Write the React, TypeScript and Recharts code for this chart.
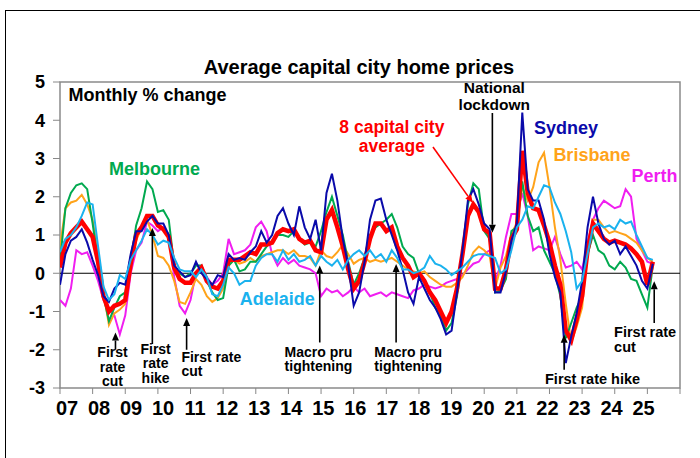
import React from 'react';
import {
  LineChart,
  Line,
  XAxis,
  YAxis,
  ReferenceLine,
  ReferenceArea,
  ReferenceDot,
} from 'recharts';

const FONT = '"Liberation Sans", Arial, Helvetica, sans-serif';

// bi-monthly readings, Jan 2007 .. Mar 2025
const years = [2007, 2008, 2009, 2010, 2011, 2012, 2013, 2014, 2015, 2016, 2017, 2018, 2019, 2020, 2021, 2022, 2023, 2024, 2025];
const monthsOfYear = [0, 2, 4, 6, 8, 10];

const sydney = [
  -0.3, 0.5, 0.85, 0.95, 1.15, 0.8,
  0.35, -0.05, -0.6, -0.75, -0.4, -0.25,
  -0.3, 0.5, 1.1, 1.1, 1.35, 1.5,
  1.3, 1.3, 1.0, 0.2, 0.05, -0.1,
  -0.05, 0.3, 0.0, -0.15, -0.3, -0.05,
  -0.1, 0.5, 0.35, 0.4, 0.35, 0.55,
  0.7, 1.1, 0.8, 1.0, 1.5, 1.7,
  1.3, 1.0, 1.75, 1.2, 0.9, 1.4,
  0.6, 2.1, 2.6, 1.9, 0.9, 0.2,
  -0.85, -0.5, 0.3, 1.4, 1.9, 1.95,
  1.4, 1.0, 0.6, 0.1, -0.5, -0.8,
  -0.1, -0.4, -0.7, -0.9, -1.2, -1.6,
  -1.5, -0.5, 0.6, 1.9, 2.2, 1.8,
  1.3, 1.15, -0.5, -0.5, 0.05, 0.85,
  1.3, 4.2, 2.2, 1.9, 1.9, 1.4,
  0.5, -0.1, -0.5, -2.35, -1.65, -1.05,
  -0.2, 1.2, 2.0, 1.3, 0.9, 0.75,
  0.85, 0.5, 0.7, 0.45, 0.2, -0.2,
  -0.4, 0.25,
];

const melbourne = [
  0.3, 1.7, 2.1, 2.3, 2.35, 2.2,
  1.3, 0.3, -0.6, -1.25, -0.9, -0.6,
  -0.5, 0.3, 1.25, 1.7, 2.4, 2.2,
  1.6, 1.65, 1.4, 0.2, 0.0, -0.1,
  0.0, 0.2, 0.2, -0.2, -0.5, -0.7,
  -0.65, 0.2, 0.35, 0.05, 0.1, 0.3,
  0.3, 0.5, 0.7, 0.85, 1.0, 1.0,
  0.95, 1.1, 0.9, 0.75, 0.8, 0.7,
  1.1, 1.6, 2.0, 1.5, 1.0, 0.3,
  -0.3, 0.0, 0.4, 1.0, 1.2, 1.3,
  1.4, 1.55, 1.2, 0.7, 0.5, 0.4,
  0.0, -0.2, -0.5, -0.9, -1.1, -1.5,
  -1.3, -0.6, 0.4, 1.8, 2.35, 2.2,
  1.1, 0.9, -0.5, -0.45, -0.15, 1.1,
  1.2, 2.4, 1.5, 1.1, 1.2, 0.6,
  0.3, 0.0, -0.6, -1.7, -1.3, -0.9,
  -0.6, 0.5, 1.0, 0.6, 0.5, 0.2,
  0.1, 0.3, 0.15, -0.15, -0.2, -0.55,
  -0.9, 0.2,
];

const brisbane = [
  0.7, 1.7, 1.85, 1.9, 2.05, 1.8,
  1.4, 0.5, -0.5, -1.35, -1.05, -0.95,
  -0.8, 0.3, 0.85, 1.2, 1.4, 1.0,
  0.45, 0.4, 0.2, -0.2, -0.75, -0.8,
  -0.5, -0.15, -0.3, -0.6, -0.75, -0.65,
  -0.4, 0.2, 0.35, 0.25, 0.3, 0.4,
  0.3, 0.45, 0.5, 0.55, 0.6, 0.6,
  0.5, 0.6, 0.45, 0.45, 0.4, 0.2,
  0.6, 0.45, 0.4, 0.55, 0.75, 0.5,
  0.25, 0.35, 0.4, 0.3, 0.35, 0.3,
  0.35, 0.4, 0.3, 0.2, 0.1, 0.05,
  0.0, 0.05, -0.1, -0.2, -0.3, -0.35,
  -0.35, -0.25, -0.1, 0.2, 0.55, 0.7,
  0.6, 0.45, -0.4, 0.15, 0.45, 1.05,
  1.3, 2.25, 1.9, 2.25, 2.9, 3.15,
  2.25, 1.2, 0.35, -0.8, -1.8, -1.4,
  -0.9, 0.6, 1.4, 1.4, 1.2, 1.05,
  1.1, 1.05, 1.0, 0.9, 0.8, 0.6,
  0.4, 0.3,
];

const adelaide = [
  0.55, 0.9, 1.0, 1.2, 1.5, 1.85,
  1.8, 0.7, -0.35, -0.7, -0.55, -0.05,
  -0.15, 0.35, 0.6, 0.85, 1.15, 1.0,
  0.75, 0.85, 0.8, 0.4, 0.1, 0.05,
  0.05, -0.1, 0.1, -0.1, -0.55, -0.6,
  -0.3, 0.15, 0.0, -0.3, -0.2, -0.2,
  0.2, 0.4, 0.5, 0.5, 0.3, 0.6,
  0.35, 0.5, 0.3, 0.35, 0.45, 0.2,
  0.45, 0.3, 0.2, 0.35, 0.1, 0.35,
  0.5, 0.6, 0.45, 0.6, 0.4, 0.5,
  0.3, 0.6, 0.4, 0.1, 0.1, 0.0,
  0.05, 0.15, 0.45, 0.25, 0.2, 0.1,
  -0.05, 0.05, 0.15, 0.3, 0.45, 0.5,
  0.5, 0.45, 0.4, 0.0, 0.1, 0.6,
  1.2, 1.4, 1.75, 1.7, 2.0, 2.3,
  2.25, 1.85, 1.55, 1.1, 0.55, -0.4,
  -0.2, 0.5, 1.2, 1.3, 1.2, 1.25,
  1.15, 1.4, 1.3, 1.35, 1.0, 0.7,
  0.4, 0.35,
];

const perth = [
  -0.7, -0.85, -0.4, 0.6, 0.5, 0.55,
  0.2, -0.2, -0.7, -0.9, -1.1, -1.6,
  -1.1, 0.0, 0.6, 0.8, 1.35, 1.25,
  1.1, 1.2, 1.0, -0.1, -0.85, -1.05,
  -0.7, 0.0, 0.2, -0.1, -0.3, -0.2,
  0.0, 0.9, 0.5, 0.55, 0.6, 0.75,
  1.2, 1.35, 1.1, 0.5, 0.2, 0.4,
  0.25, 0.35, 0.2, 0.15, 0.1, 0.0,
  -0.6, -0.4, -0.5, -0.45, -0.6, -0.5,
  -0.35, -0.5, -0.4, -0.6, -0.55, -0.5,
  -0.6, -0.5, -0.55, -0.6, -0.65, -0.45,
  -0.4, -0.3, -0.35, -0.4, -0.35, -0.25,
  -0.2, -0.15, -0.05, 0.1, 0.25, 0.3,
  0.5, 0.6, -0.2, 0.2, 0.95, 1.55,
  1.55, 2.1, 1.5, 0.6, 0.7, 0.65,
  0.6, 0.95, 0.5, 0.15, 0.2, 0.3,
  0.1, 0.8, 1.4, 1.7, 1.9, 1.8,
  1.7, 1.75, 2.2, 2.0, 0.9, 0.6,
  0.3, 0.25,
];

const capitalAverage = [
  0.15, 0.8, 1.05, 1.2, 1.35, 1.15,
  0.95, 0.3, -0.6, -1.0, -0.85, -0.8,
  -0.7, 0.25, 1.0, 1.2, 1.5, 1.5,
  1.25, 1.15, 0.95, 0.15, -0.15, -0.25,
  -0.25, 0.0, 0.15, -0.2, -0.35, -0.4,
  -0.2, 0.35, 0.35, 0.35, 0.45, 0.55,
  0.5, 0.75, 0.75, 0.8, 1.05, 1.15,
  1.1, 1.15, 0.9, 0.8, 0.85, 0.6,
  0.55, 1.4, 1.65, 1.2, 0.7, 0.1,
  -0.4, -0.2, 0.3, 0.9, 1.3, 1.3,
  1.1, 1.2, 0.7, 0.4, 0.2, -0.1,
  0.0, -0.2, -0.5, -0.7, -1.0, -1.3,
  -1.0, -0.4, 0.5, 1.5, 1.8, 1.6,
  1.15, 1.05, -0.4, -0.4, 0.1, 0.9,
  1.15, 3.2, 2.1, 1.7, 1.65, 1.25,
  0.8, 0.2, -0.3, -1.5, -1.75, -1.2,
  -0.6, 0.6, 1.3, 1.1, 0.9, 0.8,
  0.85, 0.8, 0.75, 0.65, 0.5, 0.3,
  -0.3, 0.3,
];

const xTicks = [2007, 2008, 2009, 2010, 2011, 2012, 2013, 2014, 2015, 2016, 2017, 2018, 2019, 2020, 2021, 2022, 2023, 2024, 2025, 2026];
const xTickLabels = ['07', '08', '09', '10', '11', '12', '13', '14', '15', '16', '17', '18', '19', '20', '21', '22', '23', '24', '25'];
const yTicks = [-3, -2, -1, 0, 1, 2, 3, 4, 5];

// time points for the arrays above
const times: number[] = [];
years.forEach((y) => monthsOfYear.forEach((m) => times.push(y + m / 12)));

const data = sydney.map((_, i) => ({
  t: times[i],
  syd: sydney[i],
  mel: melbourne[i],
  bne: brisbane[i],
  adl: adelaide[i],
  per: perth[i],
  avg: capitalAverage[i],
}));

// text notes on the chart, in data coordinates
type Note = { x: number; y: number; lines: string[]; color: string; size: number; anchor: 'start' | 'middle' | 'end'; gap: number };

const notes: Note[] = [
  { x: 2007.26, y: 4.5, lines: ['Monthly % change'], color: '#000', size: 18, anchor: 'start', gap: 0 },
  { x: 2009.9, y: 2.57, lines: ['Melbourne'], color: '#00A94F', size: 18, anchor: 'middle', gap: 0 },
  { x: 2022.51, y: 3.64, lines: ['Sydney'], color: '#0A0AAA', size: 18, anchor: 'middle', gap: 0 },
  { x: 2023.3, y: 2.94, lines: ['Brisbane'], color: '#FFA31A', size: 18, anchor: 'middle', gap: 0 },
  { x: 2025.22, y: 2.39, lines: ['Perth'], color: '#F01EF0', size: 18, anchor: 'middle', gap: 0 },
  { x: 2013.66, y: -0.82, lines: ['Adelaide'], color: '#1AB2EE', size: 18, anchor: 'middle', gap: 0 },
  { x: 2017.17, y: 3.67, lines: ['8 capital city', 'average'], color: '#FF0000', size: 17.5, anchor: 'middle', gap: 19 },
  { x: 2020.31, y: 4.72, lines: ['National', 'lockdown'], color: '#000', size: 15.5, anchor: 'middle', gap: 17 },
  { x: 2008.61, y: -2.19, lines: ['First', 'rate', 'cut'], color: '#000', size: 14, anchor: 'middle', gap: 14.5 },
  { x: 2009.93, y: -2.11, lines: ['First', 'rate', 'hike'], color: '#000', size: 14, anchor: 'middle', gap: 14.5 },
  { x: 2010.72, y: -2.32, lines: ['First rate', 'cut'], color: '#000', size: 14, anchor: 'start', gap: 14.5 },
  { x: 2014.92, y: -2.18, lines: ['Macro pru', 'tightening'], color: '#000', size: 14, anchor: 'middle', gap: 14.5 },
  { x: 2017.67, y: -2.18, lines: ['Macro pru', 'tightening'], color: '#000', size: 14, anchor: 'middle', gap: 14.5 },
  { x: 2023.32, y: -2.89, lines: ['First rate hike'], color: '#000', size: 14.5, anchor: 'middle', gap: 0 },
  { x: 2023.98, y: -1.66, lines: ['First rate', 'cut'], color: '#000', size: 14.5, anchor: 'start', gap: 15 },
];

// arrows: tail -> head
const arrows = [
  { from: [2008.7, -2.0], to: [2008.7, -1.55], color: '#000' },
  { from: [2009.83, -1.85], to: [2009.83, 1.18], color: '#000' },
  { from: [2010.88, -2.0], to: [2010.88, -1.17], color: '#000' },
  { from: [2014.96, -1.81], to: [2014.96, 0.2], color: '#000' },
  { from: [2017.3, -1.81], to: [2017.3, 0.24], color: '#000' },
  { from: [2020.25, 4.19], to: [2020.25, 1.06], color: '#000' },
  { from: [2018.43, 3.3], to: [2019.65, 1.84], color: '#FF0000' },
  { from: [2022.45, -2.52], to: [2022.45, -1.61], color: '#000' },
  { from: [2025.21, -1.3], to: [2025.21, -0.21], color: '#000' },
];

const renderNote = (n: Note) => (props: any) => {
  const vb = props.viewBox || {};
  const cx = (vb.x ?? 0) + (vb.width ?? 0) / 2;
  const cy = (vb.y ?? 0) + (vb.height ?? 0) / 2;
  return (
    <text x={cx} y={cy} fill={n.color} fontSize={n.size} fontWeight="bold" fontFamily={FONT} textAnchor={n.anchor}>
      {n.lines.map((l, i) => (
        <tspan key={i} x={cx} dy={i === 0 ? 0 : n.gap}>{l}</tspan>
      ))}
    </text>
  );
};

const ArrowShape = (p: any) => {
  const { x1, y1, x2, y2 } = p;
  const color = p.stroke;
  const ang = Math.atan2(y2 - y1, x2 - x1);
  const len = 8;
  const half = 3.5;
  const bx = x2 - len * Math.cos(ang);
  const by = y2 - len * Math.sin(ang);
  const pts = `${x2},${y2} ${bx - half * Math.sin(ang)},${by + half * Math.cos(ang)} ${bx + half * Math.sin(ang)},${by - half * Math.cos(ang)}`;
  return (
    <g>
      <line x1={x1} y1={y1} x2={bx} y2={by} stroke={color} strokeWidth={1.6} />
      <polygon points={pts} fill={color} />
    </g>
  );
};

const XTick = (p: any) => {
  const { x, y, payload } = p;
  const i = Math.round(payload.value - 2007);
  const label = xTickLabels[i];
  if (!label) return null;
  return (
    <text x={x + 7 - 0.6 * i} y={y + 19} textAnchor="middle" fontSize={20} fontWeight="bold" fontFamily={FONT} fill="#000">
      {label}
    </text>
  );
};

const YTick = (p: any) => {
  const { x, y, payload } = p;
  return (
    <text x={x} y={y} dy="0.36em" textAnchor="end" fontSize={18} fontWeight="bold" fontFamily={FONT} fill="#000">
      {payload.value}
    </text>
  );
};

export default function App() {
  return (
    <div style={{ position: 'absolute', left: 0, top: 0, width: 700, height: 458, background: '#fff', fontFamily: FONT, overflow: 'hidden' }}>
      {/* outer frame */}
      <div style={{ position: 'absolute', left: 5, top: 10, width: 700, height: 460, borderTop: '1.5px solid #000', borderLeft: '1.5px solid #000' }} />
      <div style={{ position: 'absolute', top: 55, left: 0, width: 718, textAlign: 'center', fontSize: 20, fontWeight: 'bold', lineHeight: '24px', color: '#000' }}>
        Average capital city home prices
      </div>
      <div style={{ position: 'absolute', left: 0, top: 0 }}>
        <LineChart width={700} height={458} data={data} margin={{ top: 82, right: 20, bottom: 0, left: 0 }}>
          <XAxis
            dataKey="t"
            type="number"
            domain={[2007, 2026]}
            ticks={xTicks}
            interval={0}
            axisLine={false}
            tickLine={{ stroke: '#888' }}
            tickSize={6}
            height={70}
            tick={<XTick />}
            allowDataOverflow
          />
          <YAxis
            domain={[-3, 5]}
            ticks={yTicks}
            interval={0}
            axisLine={false}
            tickLine={{ stroke: '#888' }}
            tickSize={7}
            tickMargin={8}
            width={60}
            tick={<YTick />}
            allowDataOverflow
          />
          <ReferenceArea x1={2007} x2={2026} y1={-3} y2={5} fill="none" stroke="#8a8a8a" strokeWidth={1.5} />
          <ReferenceLine y={0} stroke="#000" strokeWidth={1} />

          <Line type="linear" dataKey="per" stroke="#F01EF0" strokeWidth={2} dot={false} isAnimationActive={false} />
          <Line type="linear" dataKey="bne" stroke="#FFA31A" strokeWidth={2} dot={false} isAnimationActive={false} />
          <Line type="linear" dataKey="mel" stroke="#00A94F" strokeWidth={2} dot={false} isAnimationActive={false} />
          <Line type="linear" dataKey="avg" stroke="#FF0000" strokeWidth={4.5} dot={false} isAnimationActive={false} />
          <Line type="linear" dataKey="syd" stroke="#0A0AAA" strokeWidth={2} dot={false} isAnimationActive={false} />
          <Line type="linear" dataKey="adl" stroke="#1AB2EE" strokeWidth={2} dot={false} isAnimationActive={false} />

          {arrows.map((a, i) => (
            <ReferenceLine
              key={`a${i}`}
              segment={[{ x: a.from[0], y: a.from[1] }, { x: a.to[0], y: a.to[1] }]}
              stroke={a.color}
              shape={ArrowShape}
              ifOverflow="visible"
            />
          ))}
          {notes.map((n, i) => (
            <ReferenceDot key={`n${i}`} x={n.x} y={n.y} r={0} fill="none" stroke="none" ifOverflow="visible" label={renderNote(n)} />
          ))}
        </LineChart>
      </div>
    </div>
  );
}
